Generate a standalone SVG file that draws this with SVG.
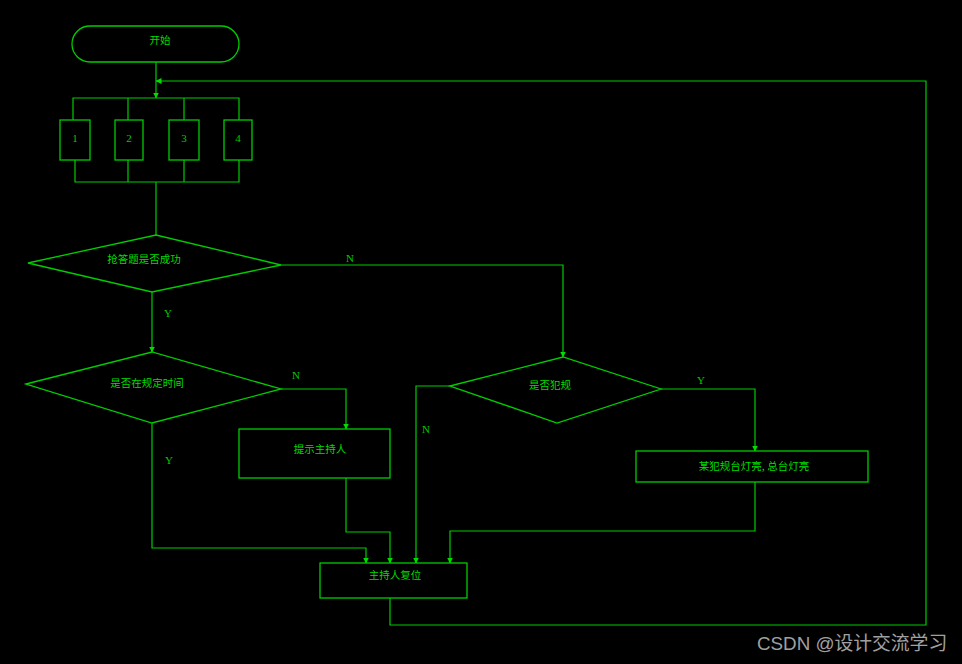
<svg xmlns="http://www.w3.org/2000/svg" width="962" height="664" viewBox="0 0 962 664">
<style>
.s{fill:none;stroke:#00cc00;stroke-width:1.3}
.c{fill:none;stroke:#00cc00;stroke-width:1.2}
.t{font-family:"Noto Sans CJK SC","Liberation Sans",sans-serif;font-size:10.5px;fill:#00dd00;text-anchor:middle}
.l{font-family:"Liberation Serif",serif;font-size:11px;fill:#00cc00;text-anchor:middle}
.w{font-family:"Liberation Sans","Noto Sans CJK SC",sans-serif;font-size:18.8px;fill:#a0a0a0}
</style>
<defs>
<marker id="a" markerWidth="6" markerHeight="8" refX="5.5" refY="3" orient="auto" markerUnits="userSpaceOnUse">
<path d="M0,0 L6,3 L0,6 Z" fill="#00dd00"/>
</marker>
</defs>
<rect width="962" height="664" fill="#000"/>
<g id="start"><rect class="s" x="72" y="26" width="167" height="36" rx="18"/><text class="t" x="160" y="44">开始</text></g>
<g id="b1"><rect class="s" x="60" y="120" width="30" height="40"/><text class="l" x="75" y="142">1</text></g>
<g id="b2"><rect class="s" x="115" y="120" width="28" height="40"/><text class="l" x="129" y="142">2</text></g>
<g id="b3"><rect class="s" x="169" y="120" width="30" height="40"/><text class="l" x="184" y="142">3</text></g>
<g id="b4"><rect class="s" x="224" y="120" width="28" height="40"/><text class="l" x="238" y="142">4</text></g>
<g id="d1"><polygon class="s" points="28,263 156,235 281,265 152,292"/><text class="t" x="144" y="263">抢答题是否成功</text></g>
<g id="d2"><polygon class="s" points="26,384 152,352 281,389 152,423"/><text class="t" x="147" y="387">是否在规定时间</text></g>
<g id="d3"><polygon class="s" points="450,386 563,357 661,389 557,423"/><text class="t" x="550" y="389">是否犯规</text></g>
<g id="p1"><rect class="s" x="239" y="429" width="151" height="49"/><text class="t" x="320" y="453">提示主持人</text></g>
<g id="p2"><rect class="s" x="636" y="451" width="232" height="31"/><text class="t" x="754" y="470">某犯规台灯亮, 总台灯亮</text></g>
<g id="p3"><rect class="s" x="320" y="563" width="147" height="35"/><text class="t" x="395" y="579">主持人复位</text></g>
<g id="connectors">
<path class="c" d="M156,62 V98" marker-end="url(#a)"/>
<path class="c" d="M73,120 V98 H239 V120 M128,98 V120 M184,98 V120"/>
<path class="c" d="M75,160 V182 H239 V160 M128,160 V182 M184,160 V182"/>
<path class="c" d="M156,182 V235"/>
<path class="c" d="M152,292 V352" marker-end="url(#a)"/>
<path class="c" d="M281,265 H563 V357" marker-end="url(#a)"/>
<path class="c" d="M281,389 H346 V429" marker-end="url(#a)"/>
<path class="c" d="M152,423 V548 H366 V563" marker-end="url(#a)"/>
<path class="c" d="M346,478 V532 H390 V563" marker-end="url(#a)"/>
<path class="c" d="M450,386 H416 V563" marker-end="url(#a)"/>
<path class="c" d="M661,389 H755 V451" marker-end="url(#a)"/>
<path class="c" d="M755,482 V531 H450 V563" marker-end="url(#a)"/>
<path class="c" d="M390,598 V625 H926 V81 H156" marker-end="url(#a)"/>
<text class="l" x="350" y="262">N</text>
<text class="l" x="168" y="317">Y</text>
<text class="l" x="296" y="379">N</text>
<text class="l" x="169" y="464">Y</text>
<text class="l" x="426" y="433">N</text>
<text class="l" x="701" y="384">Y</text>
</g>
<text class="w" x="757" y="650">CSDN @设计交流学习</text>
</svg>
